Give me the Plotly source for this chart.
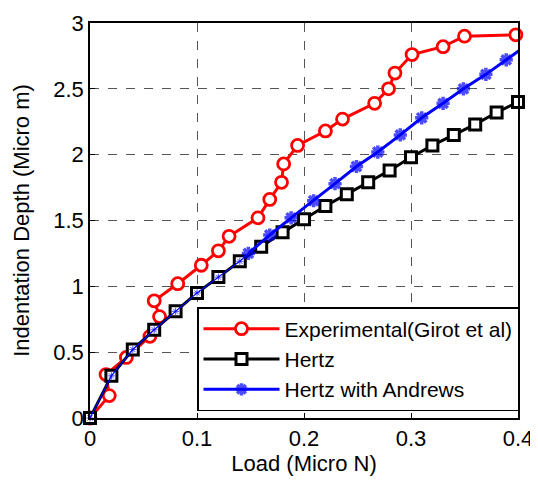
import plotly.graph_objects as go

# Experimental (Girot et al)
exp_load = [0, 0.018, 0.015, 0.034, 0.056, 0.065, 0.060, 0.082, 0.104, 0.120, 0.130,
            0.157, 0.168, 0.179, 0.181, 0.194, 0.220, 0.236, 0.266, 0.279, 0.285,
            0.301, 0.330, 0.350, 0.398]
exp_depth = [0, 0.17, 0.33, 0.46, 0.62, 0.77, 0.89, 1.02, 1.16, 1.27, 1.38,
             1.52, 1.66, 1.79, 1.93, 2.07, 2.18, 2.27, 2.39, 2.50, 2.62,
             2.76, 2.82, 2.90, 2.91]

# Hertz
hertz_load = [0, 0.02, 0.04, 0.06, 0.08, 0.10, 0.12, 0.14, 0.16, 0.18, 0.20,
              0.22, 0.24, 0.26, 0.28, 0.30, 0.32, 0.34, 0.36, 0.38, 0.40]
hertz_depth = [0, 0.32, 0.52, 0.67, 0.81, 0.95, 1.07, 1.19, 1.30, 1.41, 1.51,
               1.61, 1.70, 1.79, 1.88, 1.98, 2.07, 2.15, 2.23, 2.32, 2.40]

# Hertz with Andrews (low-load part, thin)
andrews_low_load = [0, 0.02, 0.04, 0.06, 0.08, 0.10, 0.12, 0.14, 0.148]
andrews_low_depth = [0, 0.32, 0.52, 0.67, 0.81, 0.95, 1.07, 1.19, 1.25]

# Hertz with Andrews (thick part)
andrews_load = [0.148, 0.168, 0.188, 0.209, 0.229, 0.249, 0.269, 0.290, 0.310,
                0.330, 0.349, 0.370, 0.389, 0.401]
andrews_depth = [1.25, 1.39, 1.52, 1.65, 1.78, 1.91, 2.02, 2.15, 2.28,
                 2.39, 2.50, 2.61, 2.72, 2.79]

x_ticks = [0, 0.1, 0.2, 0.3, 0.4]
x_tick_labels = ["0", "0.1", "0.2", "0.3", "0.4"]
y_ticks = [0, 0.5, 1, 1.5, 2, 2.5, 3]
y_tick_labels = ["0", "0.5", "1", "1.5", "2", "2.5", "3"]

FONT = "Liberation Sans, Arial, Helvetica, sans-serif"
FS = 22

fig = go.Figure()

fig.add_trace(go.Scatter(
    x=exp_load, y=exp_depth, mode="lines+markers",
    name="Experimental(Girot et al)",
    line=dict(color="#ff0000", width=3),
    marker=dict(symbol="circle", size=12, color="white",
                line=dict(color="#ff0000", width=2.8)),
    cliponaxis=False,
))

fig.add_trace(go.Scatter(
    x=hertz_load, y=hertz_depth, mode="lines+markers",
    name="Hertz",
    line=dict(color="black", width=3),
    marker=dict(symbol="square", size=11, color="white",
                line=dict(color="black", width=3)),
    cliponaxis=False,
))

low_sizes = [6] * (len(andrews_low_load) - 1) + [0]
fig.add_trace(go.Scatter(
    x=andrews_low_load, y=andrews_low_depth, mode="lines+markers",
    name="Hertz with Andrews", showlegend=False,
    line=dict(color="#0000ff", width=1.2),
    marker=dict(symbol="asterisk-open", size=low_sizes,
                line=dict(color="#0000ff", width=1)),
    cliponaxis=False,
))

hi_sizes = [11] * (len(andrews_load) - 1) + [0]
fig.add_trace(go.Scatter(
    x=andrews_load, y=andrews_depth, mode="lines+markers",
    name="Hertz with Andrews",
    line=dict(color="#0000ff", width=3),
    marker=dict(symbol="asterisk-open", size=hi_sizes,
                line=dict(color="#0000ff", width=3.5)),
    cliponaxis=False,
))

axis_common = dict(
    showline=True, linecolor="black", linewidth=1.5, mirror=True,
    ticks="inside", ticklen=5, tickcolor="black",
    showgrid=True, gridcolor="#555555", griddash="dash", gridwidth=1,
    zeroline=False,
    tickfont=dict(family=FONT, size=FS, color="black"),
)

fig.update_xaxes(
    range=[0, 0.4], tickvals=x_ticks, ticktext=x_tick_labels,
    ticklabelstandoff=0,
    title=dict(text="Load (Micro N)", font=dict(family=FONT, size=FS, color="black"),
               standoff=4),
    **axis_common,
)
fig.update_yaxes(
    range=[0, 3], tickvals=y_ticks, ticktext=y_tick_labels,
    title=dict(text="Indentation Depth (Micro m)",
               font=dict(family=FONT, size=FS, color="black"), standoff=18),
    **axis_common,
)

fig.update_layout(
    width=530, height=473,
    margin=dict(l=82, r=20, t=15, b=63, autoexpand=False),
    paper_bgcolor="white", plot_bgcolor="white",
    font=dict(family=FONT, size=FS, color="black"),
    legend=dict(
        x=0.25, y=0.281, xanchor="left", yanchor="top",
        bgcolor="white", bordercolor="black", borderwidth=1.5,
        font=dict(family=FONT, size=21, color="black"),
        itemwidth=76, tracegroupgap=0,
    ),
)

fig.write_html("out.html")
